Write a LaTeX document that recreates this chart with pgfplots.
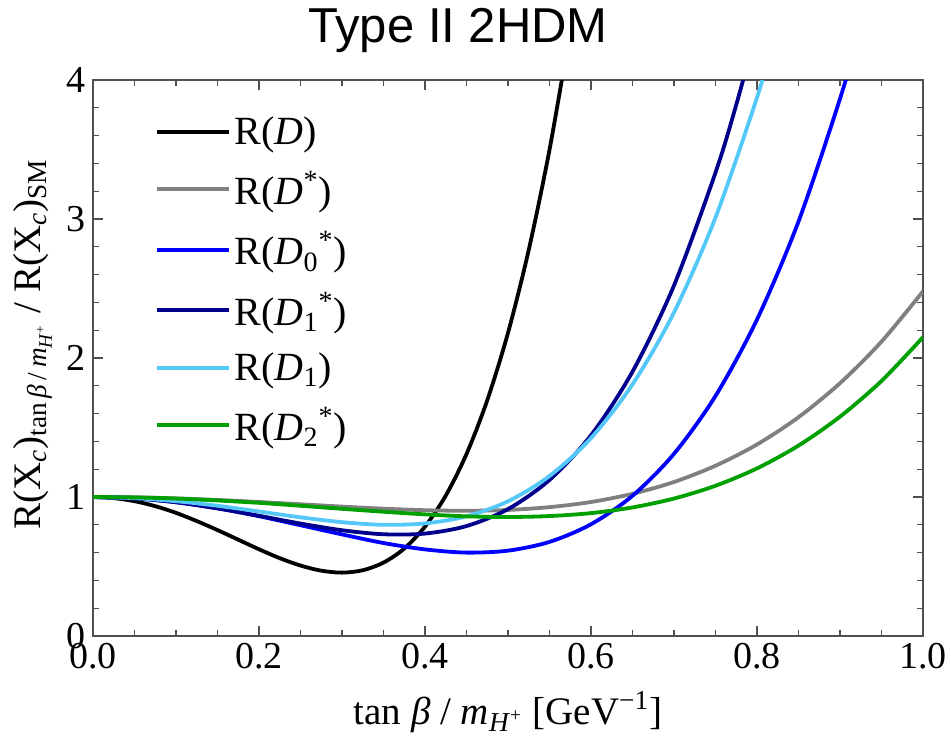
\documentclass[border=0pt]{standalone}
\usepackage{fontspec}
\setmainfont{Liberation Serif}
\newfontfamily\titlefont{Liberation Sans}
\usepackage{pgfplots}
\pgfplotsset{compat=1.18}
\definecolor{cDst}{RGB}{128,128,128}
\definecolor{cDzero}{RGB}{0,0,255}
\definecolor{cDonest}{RGB}{0,0,140}
\definecolor{cDone}{RGB}{85,200,250}
\definecolor{cDtwo}{RGB}{0,160,0}
\definecolor{frame}{RGB}{80,80,80}

\begin{document}
\begin{tikzpicture}
\begin{axis}[
    scale only axis,
    width=415pt, height=278pt,
    xmin=0, xmax=1, ymin=0, ymax=4,
    xtick={0,0.2,0.4,0.6,0.8,1.0},
    ytick={0,1,2,3,4},
    minor x tick num=3,
    minor y tick num=4,
    tick align=inside,
    major tick length=5pt, minor tick length=3pt,
    every tick/.style={frame, line width=0.6pt},
    axis line style={frame, line width=0.8pt},
    /pgf/number format/assume math mode=true,
    x tick label style={/pgf/number format/.cd, fixed, fixed zerofill, precision=1, /tikz/.cd},
    tick label style={font=\fontsize{19}{19}\selectfont},
    title={\titlefont Type II 2HDM},
    title style={font=\fontsize{24.5}{24.5}\selectfont, at={(0.5,1)}, anchor=base, inner sep=0pt,
                 yshift=13pt, xshift=-25pt},
    xlabel={tan \textit{β} / \textit{m}\textsubscript{\textit{H}\textsuperscript{+}} [GeV\textsuperscript{−1}]},
    xlabel style={font=\fontsize{19.5}{19.5}\selectfont, at={(axis description cs:0.5,-0.137)}, anchor=center},
    ylabel={R(X\textsubscript{\textit{c}})\textsubscript{tan\,\textit{β}\,/\,\textit{m}\textsubscript{\textit{H}\textsuperscript{+}}} / R(X\textsubscript{\textit{c}})\textsubscript{SM}},
    ylabel style={font=\fontsize{19.5}{19.5}\selectfont, at={(axis description cs:-0.072,0.525)}, anchor=center},
    legend style={draw=none, fill=none, at={(axis cs:0.074,3.77)}, anchor=north west,
                  font=\fontsize{20}{20}\selectfont, row sep=8pt, inner sep=0pt},
    legend cell align=left,
    legend image code/.code={\draw[#1] (0pt,0pt) -- (36pt,0pt);},
    every axis plot/.append style={line width=1.9pt, smooth},
]
% R(D)
\addplot[black] coordinates {
 (0,1) (0.025,0.992) (0.05,0.970) (0.075,0.934) (0.1,0.886) (0.125,0.827)
 (0.15,0.762) (0.175,0.693) (0.2,0.624) (0.225,0.560) (0.25,0.507)
 (0.275,0.470) (0.3,0.456) (0.325,0.473) (0.35,0.528) (0.375,0.629) (0.4,0.787)
 (0.425,1.010) (0.45,1.309) (0.475,1.696) (0.5,2.181) (0.525,2.778)
 (0.55,3.498) (0.575,4.356)
};
% R(D*)
\addplot[cDst] coordinates {
 (0,1) (0.05,0.998) (0.1,0.990) (0.15,0.979) (0.2,0.964) (0.25,0.948)
 (0.3,0.931) (0.35,0.916) (0.4,0.905) (0.45,0.901) (0.5,0.907)
 (0.55,0.927) (0.6,0.964) (0.65,1.023) (0.7,1.108) (0.75,1.225)
 (0.8,1.378) (0.85,1.574) (0.9,1.819) (0.95,2.118) (1.0,2.48)
};
% R(D0*)
\addplot[cDzero] coordinates {
 (0,1) (0.05,0.991) (0.1,0.963) (0.15,0.919) (0.2,0.862) (0.25,0.797)
 (0.3,0.731) (0.35,0.669) (0.4,0.623) (0.45,0.600) (0.5,0.614)
 (0.55,0.677) (0.6,0.804) (0.65,1.009) (0.7,1.311) (0.75,1.727)
 (0.8,2.277) (0.85,2.982) (0.9,3.865) (0.925,4.380)
};
% R(D1*)
\addplot[cDonest] coordinates {
 (0,1) (0.05,0.990) (0.1,0.962) (0.15,0.918) (0.2,0.865) (0.25,0.809)
 (0.3,0.761) (0.35,0.732) (0.4,0.737) (0.45,0.791) (0.5,0.913)
 (0.55,1.123) (0.6,1.444) (0.65,1.902) (0.7,2.522) (0.75,3.334)
 (0.775,3.822) (0.8,4.370)
};
% R(D1)
\addplot[cDone] coordinates {
 (0,1) (0.05,0.992) (0.1,0.970) (0.15,0.937) (0.2,0.896) (0.25,0.854)
 (0.3,0.819) (0.35,0.800) (0.4,0.810) (0.45,0.861) (0.5,0.969)
 (0.55,1.151) (0.6,1.424) (0.65,1.810) (0.7,2.328) (0.75,3.011)
 (0.8,3.874) (0.825,4.384)
};
% R(D2*)
\addplot[cDtwo] coordinates {
 (0,1) (0.05,0.997) (0.1,0.989) (0.15,0.975) (0.2,0.958) (0.25,0.937)
 (0.3,0.915) (0.35,0.894) (0.4,0.875) (0.45,0.861) (0.5,0.856)
 (0.55,0.863) (0.6,0.884) (0.65,0.925) (0.7,0.989) (0.75,1.081)
 (0.8,1.206) (0.85,1.370) (0.9,1.578) (0.95,1.835) (1.0,2.15)
};
\legend{R(\textit{D}), R(\textit{D}\textsuperscript{*}), R(\textit{D}\textsubscript{0}\textsuperscript{*}),
        R(\textit{D}\textsubscript{1}\textsuperscript{*}), R(\textit{D}\textsubscript{1}),
        R(\textit{D}\textsubscript{2}\textsuperscript{*})}
\end{axis}
\pgfresetboundingbox
\useasboundingbox (-46.5pt,-52pt) rectangle (429pt,318pt);
\end{tikzpicture}
\end{document}
